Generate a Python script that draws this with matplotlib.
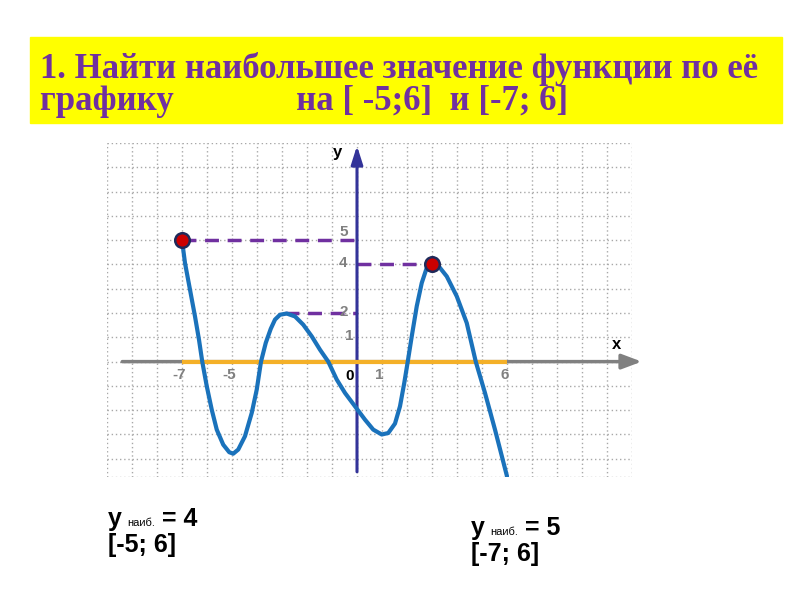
import numpy as np
import matplotlib.pyplot as plt

# points (x, y)
curve_x = [-7.0, -6.88, -6.68, -6.48, -6.32, -6.19, -6.01, -5.81, -5.61, -5.35,
           -5.11, -4.95, -4.75, -4.48, -4.21, -4.01, -3.84, -3.65, -3.45, -3.28,
           -3.08, -2.81, -2.48, -2.15, -1.81, -1.48, -1.15, -0.81, -0.48, -0.08,
           0.32, 0.65, 0.99, 1.25, 1.52, 1.72, 1.89, 2.03, 2.19, 2.39,
           2.59, 2.79, 3.0, 3.25, 3.59, 3.99, 4.39, 4.75, 5.12, 5.52, 6.0]
curve_y = [5.0, 4.06, 2.96, 1.86, 0.9, 0.0, -1.01, -1.98, -2.8, -3.42,
           -3.73, -3.79, -3.62, -3.07, -2.11, -1.15, 0.0, 0.77, 1.35, 1.73,
           1.93, 1.98, 1.86, 1.52, 1.04, 0.49, 0.0, -0.74, -1.29, -1.84,
           -2.39, -2.8, -3.0, -2.94, -2.55, -1.84, -0.88, 0.0, 1.04, 2.28,
           3.24, 3.86, 4.0, 3.95, 3.51, 2.69, 1.59, 0.0, -1.29, -2.8, -4.72]

max_x = [-7, 3]
max_y = [5, 4]
peak2_x = -2.9
peak2_y = 2

xtick_vals = [-7, -5, 1, 6]
ytick_vals = [5, 4, 2, 1]

title_line1 = "1. Найти наибольшее значение функции по её"
title_line2 = "графику              на [ -5;6]  и [-7; 6]"

fig = plt.figure(figsize=(8, 6), dpi=100)

# yellow title box
fig.patches.append(plt.Rectangle((30 / 800, 1 - 123 / 600), 752 / 800, 86 / 600,
                                 transform=fig.transFigure, color="#ffff00", zorder=0))
fig.text(40 / 800, 1 - 78 / 600, title_line1, color="#7030a0", fontsize=25,
         family="Liberation Serif", weight="bold", va="baseline")
fig.text(40 / 800, 1 - 110 / 600, title_line2, color="#7030a0", fontsize=25,
         family="Liberation Serif", weight="bold", va="baseline")

ax = fig.add_axes([107 / 800, 1 - 477 / 600, 525 / 800, 334 / 600])
ax.set_xlim(-10, 11)
ax.set_ylim(-4.75, 9)
ax.axis("off")

#################################################
# GRID
#################################################

grid_style = dict(color="#a8a8a8", lw=1, linestyle=(0, (1, 2)), zorder=1)
for gx in range(-10, 12):
    ax.plot([gx, gx], [-4.75, 9], **grid_style)
for gy in list(range(-4, 10)) + [-4.75]:
    ax.plot([-10, 11], [gy, gy], **grid_style)

#################################################
# AXES
#################################################

ax.annotate("", xy=(11.5, 0), xytext=(-9.5, 0),
            arrowprops=dict(arrowstyle="-|>,head_length=1.2,head_width=0.45",
                            color="#808080", lw=2.5),
            annotation_clip=False, zorder=2)
ax.annotate("", xy=(0, 9), xytext=(0, -4.65),
            arrowprops=dict(arrowstyle="-|>,head_length=1.1,head_width=0.35",
                            color="#333399", lw=2.2),
            annotation_clip=False, zorder=3)
ax.plot([-7, 6], [0, 0], color="#f4b028", lw=3, zorder=3, solid_capstyle="butt")

# dashed levels
dash = dict(color="#7030a0", lw=2.5, linestyle=(0, (4, 2.5)), zorder=2)
ax.plot([max_x[0], 0], [max_y[0], max_y[0]], **dash)
ax.plot([0, max_x[1]], [max_y[1], max_y[1]], **dash)
ax.plot([peak2_x, 0], [peak2_y, peak2_y], **dash)

ax.plot(curve_x, curve_y, color="#1a72bb", lw=3, zorder=4,
        solid_capstyle="round", solid_joinstyle="round")
ax.scatter(max_x, max_y, s=110, color="#cc0000", edgecolor="#1f2a5a",
           linewidth=1.8, zorder=5)

#################################################
# LABELS
#################################################

lab = dict(color="#808080", fontsize=11, weight="bold", family="Liberation Sans")
for xv in xtick_vals:
    ax.text(xv - 0.1, -0.25, str(xv), ha="center", va="top", **lab)
for yv in ytick_vals:
    ax.text(-0.55 if yv != 1 else -0.3, yv + 0.05, str(yv), ha="center", va="bottom"
            if yv == 5 else "center", **lab)
ax.text(-0.3, -0.3, "0", ha="center", va="top", color="black", fontsize=11,
        weight="bold", family="Liberation Sans")
ax.text(-0.8, 8.6, "y", ha="center", va="center", color="black", fontsize=12,
        weight="bold", family="Liberation Sans")
ax.text(10.4, 0.7, "x", ha="center", va="center", color="black", fontsize=12,
        weight="bold", family="Liberation Sans")

#################################################
# ANSWERS
#################################################

big = dict(color="black", fontsize=18, weight="bold", family="Liberation Sans",
           va="baseline")
small = dict(color="black", fontsize=8, family="Liberation Sans", va="baseline")

fig.text(108 / 800, 1 - 526 / 600, "y", **big)
fig.text(127 / 800, 1 - 526 / 600, "наиб.", **small)
fig.text(162 / 800, 1 - 526 / 600, "= 4", **big)
fig.text(108 / 800, 1 - 552 / 600, "[-5; 6]", **big)

fig.text(471 / 800, 1 - 535 / 600, "y", **big)
fig.text(490 / 800, 1 - 535 / 600, "наиб.", **small)
fig.text(525 / 800, 1 - 535 / 600, "= 5", **big)
fig.text(471 / 800, 1 - 561 / 600, "[-7; 6]", **big)

fig.savefig("out.png", dpi=100)
